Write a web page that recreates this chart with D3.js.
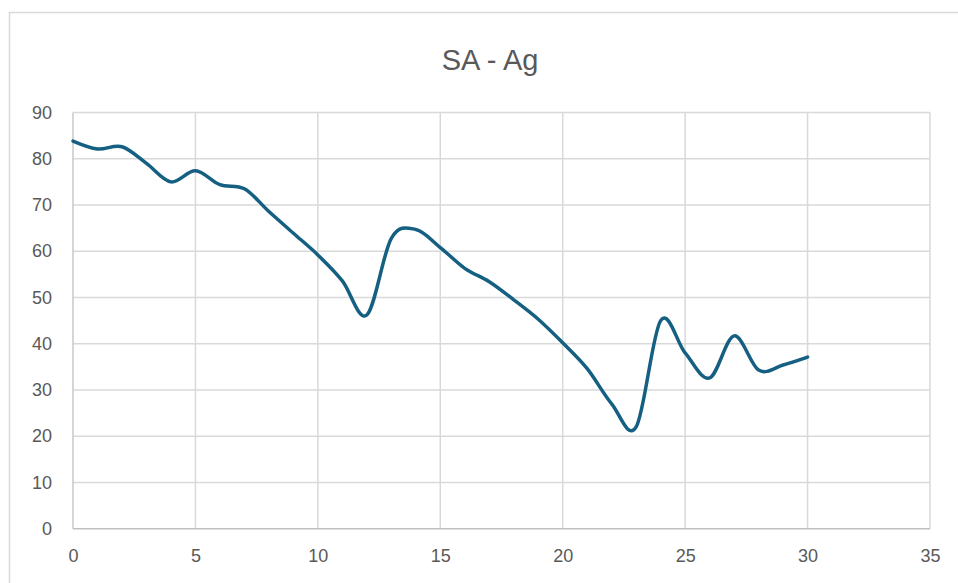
<!DOCTYPE html>
<html>
<head>
<meta charset="utf-8">
<script src="https://cdn.jsdelivr.net/npm/d3@7"></script>
<style>
  html, body { margin: 0; padding: 0; background: #fff; }
  svg { display: block; }
</style>
</head>
<body>
<svg id="chart" width="958" height="583"></svg>
<script>
// Series: SA - Ag, one reading per step 0..30
const xValues = [0, 1, 2, 3, 4, 5, 6, 7, 8, 9, 10, 11, 12, 13, 14, 15, 16, 17, 18, 19, 20, 21, 22, 23, 24, 25, 26, 27, 28, 29, 30];
const yValues = [83.8, 82.1, 82.6, 79.0, 75.0, 77.4, 74.4, 73.5, 68.6, 63.9, 59.2, 53.6, 46.2, 62.8, 64.7, 60.8, 56.3, 53.4, 49.5, 45.3, 40.2, 34.6, 27.0, 22.0, 45.0, 38.0, 32.6, 41.7, 34.3, 35.4, 37.1];
const xTicks = [0, 5, 10, 15, 20, 25, 30, 35];
const yTicks = [0, 10, 20, 30, 40, 50, 60, 70, 80, 90];
const chartTitle = "SA - Ag";

const svg = d3.select("#chart");
const W = 958, H = 583;
const plot = { left: 73, right: 930, top: 112.5, bottom: 528.7 };

const x = d3.scaleLinear().domain([0, 35]).range([plot.left, plot.right]);
const y = d3.scaleLinear().domain([0, 90]).range([plot.bottom, plot.top]);

// chart frame
svg.append("rect")
  .attr("x", 9.5).attr("y", 12.5)
  .attr("width", W).attr("height", H)
  .attr("fill", "#fff")
  .attr("stroke", "#d9d9d9")
  .attr("stroke-width", 1.5);

// title
svg.append("text")
  .attr("x", 490).attr("y", 70)
  .attr("text-anchor", "middle")
  .attr("font-family", "'Liberation Sans Narrow', 'Liberation Sans', Arial, sans-serif")
  .attr("font-size", 29)
  .attr("fill", "#595959")
  .text(chartTitle);

// horizontal gridlines
svg.append("g")
  .selectAll("line")
  .data(yTicks.filter(d => d > 0))
  .join("line")
  .attr("x1", plot.left).attr("x2", plot.right)
  .attr("y1", d => y(d)).attr("y2", d => y(d))
  .attr("stroke", "#d9d9d9")
  .attr("stroke-width", 1.5);

// vertical gridlines
svg.append("g")
  .selectAll("line")
  .data(xTicks)
  .join("line")
  .attr("x1", d => x(d)).attr("x2", d => x(d))
  .attr("y1", plot.top).attr("y2", plot.bottom)
  .attr("stroke", d => d === 0 ? "#c8c8c8" : "#d9d9d9")
  .attr("stroke-width", 1.5);

// bottom axis line
svg.append("line")
  .attr("x1", plot.left).attr("x2", plot.right)
  .attr("y1", y(0)).attr("y2", y(0))
  .attr("stroke", "#bfbfbf")
  .attr("stroke-width", 1.5);

// axes labels via d3 axes (domain and ticks hidden)
const labelFont = "'Liberation Sans', Arial, sans-serif";

const yAxis = svg.append("g")
  .attr("transform", `translate(${plot.left},0)`)
  .call(d3.axisLeft(y).tickValues(yTicks).tickSize(0).tickPadding(21));
yAxis.select(".domain").remove();
yAxis.selectAll("text")
  .attr("font-family", labelFont)
  .attr("font-size", 18)
  .attr("fill", "#595959");

const xAxis = svg.append("g")
  .attr("transform", `translate(0,${plot.bottom})`)
  .call(d3.axisBottom(x).tickValues(xTicks).tickSize(0).tickPadding(21));
xAxis.select(".domain").remove();
xAxis.selectAll("text")
  .attr("font-family", labelFont)
  .attr("font-size", 18)
  .attr("fill", "#595959");

// smoothed series line
const points = xValues.map((d, i) => [d, yValues[i]]);
const line = d3.line()
  .x(d => x(d[0]))
  .y(d => y(d[1]))
  .curve(d3.curveCardinal.tension(0));

svg.append("path")
  .datum(points)
  .attr("d", line)
  .attr("fill", "none")
  .attr("stroke", "#156082")
  .attr("stroke-width", 3.5)
  .attr("stroke-linejoin", "round")
  .attr("stroke-linecap", "round");
</script>
</body>
</html>
